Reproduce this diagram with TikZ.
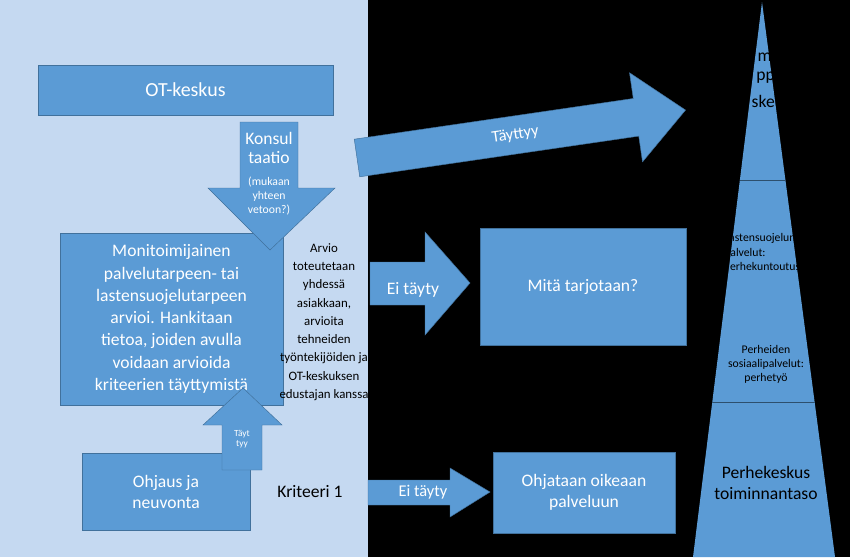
\documentclass[tikz,border=0pt]{standalone}
\usepackage{fontspec}
\setmainfont{Carlito}
\usetikzlibrary{positioning}
\definecolor{panel}{HTML}{C5D9F1}
\definecolor{boxblue}{HTML}{5B9BD5}
\definecolor{lineblue}{HTML}{41719C}
\begin{document}
\begin{tikzpicture}[x=0.03cm,y=-0.03cm]
\tikzset{
    bluebox/.style={fill=boxblue, draw=lineblue, text=white, align=center},
    blueshape/.style={fill=boxblue, draw=lineblue},
    plain text/.style={align=center, text=black, inner sep=0pt},
    tri text/.style={align=center, text=black, font=\fontsize{10}{12}\selectfont, inner sep=0pt}}

\fill[black] (0,0) rectangle (850,557);
\useasboundingbox (0,0) rectangle (850,557);
\fill[panel] (0,0) rectangle (368,557);

% boxes
\draw[bluebox] (38,65) rectangle (333,115);
\node[text=white, font=\fontsize{17}{20}\selectfont] (ot) at (185.5,90) {OT-keskus};
\draw[bluebox] (60,233) rectangle (283,405);
\node[text=white, align=center, font=\fontsize{15}{19}\selectfont] (moni) at (171.5,319)
    {Monitoimijainen\\palvelutarpeen- tai\\lastensuojelutarpeen\\arvioi. Hankitaan\\tietoa, joiden avulla\\voidaan arvioida\\kriteerien täyttymistä};
\draw[bluebox] (82,453) rectangle (250,530);
\node[text=white, align=center, font=\fontsize{15}{18}\selectfont] (ohjaus) at (166,491.5) {Ohjaus ja\\neuvonta};
\draw[bluebox] (480,228) rectangle (686,345);
\node[text=white, font=\fontsize{15}{18}\selectfont] (mita) at (583,286.5) {Mitä tarjotaan?};
\draw[bluebox] (493,452) rectangle (675,533);
\node[text=white, align=center, font=\fontsize{15}{18}\selectfont] (ohjataan) at (584,492.5) {Ohjataan oikeaan\\palveluun};

% arrows
\draw[blueshape] (240,122) -- (298,122) -- (298,188) -- (335,188) -- (270,250)
    -- (208,188) -- (240,188) -- cycle;
\node[text=white, align=center, font=\fontsize{15}{17}\selectfont, inner sep=0pt] (konsul) at (269,148) {Konsul\\taatio};
\node[text=white, align=center, font=\fontsize{10}{12}\selectfont, inner sep=0pt] (mukaan) at (269,196) {(mukaan\\yhteen\\vetoon?)};
\draw[blueshape] (222,470) -- (222,425) -- (203,425) -- (243,388) -- (282,425)
    -- (262,425) -- (262,470) -- cycle;
\node[text=white, align=center, font=\fontsize{8}{9}\selectfont, inner sep=0pt] (tayt) at (242,439) {Täyt\\tyy};
\begin{scope}[shift={(357,158)}, rotate=8.3]
    \draw[blueshape] (0,-19) -- (282,-19) -- (282,-45) -- (332,0) -- (282,45)
        -- (282,19) -- (0,19) -- cycle;
    \node[text=white, font=\fontsize{14}{16}\selectfont, rotate=8.3] (tayttyy) at (160,0) {Täyttyy};
\end{scope}
\draw[blueshape] (370,262) -- (425,262) -- (425,232) -- (470,283) -- (425,335)
    -- (425,305) -- (370,305) -- cycle;
\node[text=white, font=\fontsize{15}{18}\selectfont] (ei1) at (413,290) {Ei täyty};
\draw[blueshape] (368,480) -- (450,480) -- (450,468) -- (490,492) -- (450,517)
    -- (450,505) -- (368,505) -- cycle;
\node[text=white, font=\fontsize{14}{16}\selectfont] (ei2) at (423,492) {Ei täyty};

% texts
\node[plain text, font=\fontsize{11}{15.6}\selectfont] (arvio) at (324,322)
    {Arvio\\toteutetaan\\yhdessä\\asiakkaan,\\arvioita\\tehneiden\\työntekijöiden ja\\OT-keskuksen\\edustajan kanssa};
\node[plain text, font=\fontsize{15}{18}\selectfont] (kriteeri) at (310,492) {Kriteeri 1};

% triangle
\fill[boxblue] (762,2) -- (835,557) -- (693,557) -- cycle;
\begin{scope}
    \clip (762,2) -- (835,557) -- (693,557) -- cycle;
    \draw[lineblue!70!black] (600,180) -- (900,180);
    \draw[lineblue!70!black] (600,402) -- (900,402);
    \node[tri text, font=\fontsize{15}{16}\selectfont, anchor=east] (top1) at (772,57) {m};
    \node[tri text, font=\fontsize{15}{16}\selectfont, anchor=east] (top2) at (775,78) {pp};
    \node[tri text, font=\fontsize{15}{16}\selectfont, anchor=east] (top3) at (775,101) {ske};
    \node[tri text, align=left, anchor=west] (lasu) at (724,252) {Lastensuojelun\\palvelut:\\Perhekuntoutus};
    \node[tri text] (perheiden) at (766,364) {Perheiden\\sosiaalipalvelut:\\perhetyö};
    \node[tri text, font=\fontsize{15}{18}\selectfont] (perhekeskus) at (766,483) {Perhekeskus\\toiminnantaso};
\end{scope}
\end{tikzpicture}
\end{document}
